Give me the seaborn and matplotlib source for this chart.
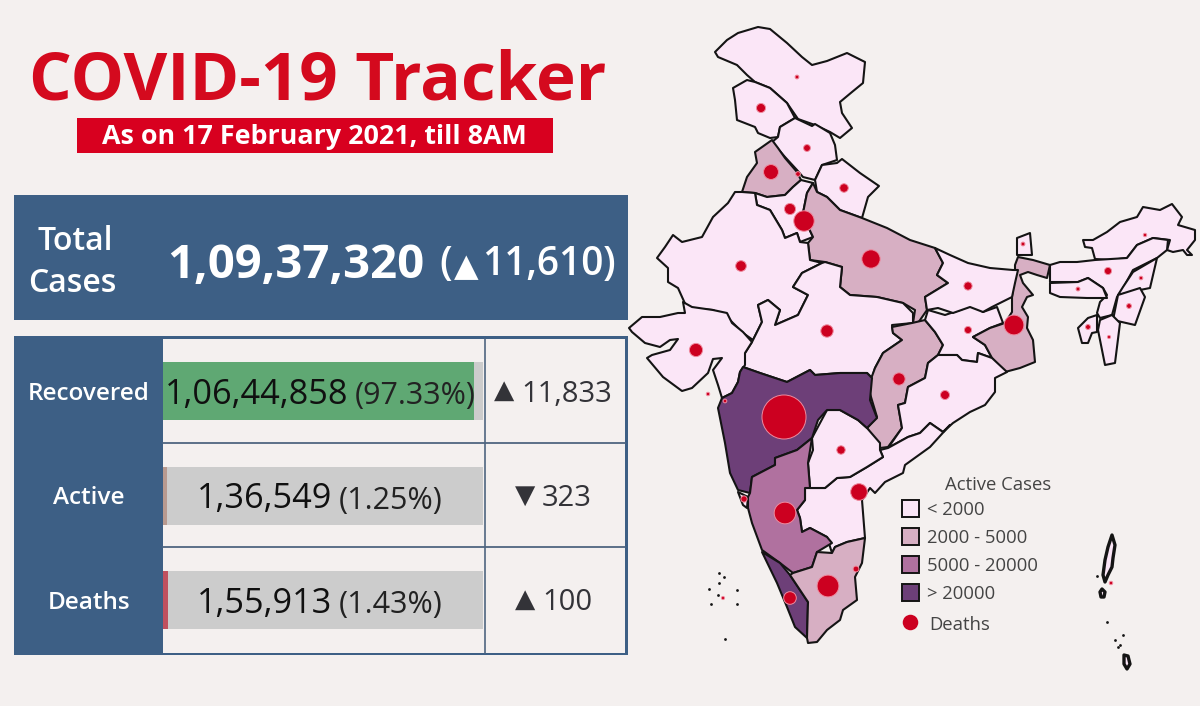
import matplotlib
matplotlib.use("Agg")
import matplotlib.pyplot as plt
from matplotlib.patches import Polygon, Rectangle
import pandas as pd
import seaborn as sns

# ---------- figures ----------
title = "COVID-19 Tracker"
subtitle = "As on 17 February 2021, till 8AM"
total_cases = "1,09,37,320"
total_delta = "11,610"
categories = ["Recovered", "Active", "Deaths"]
counts = ["1,06,44,858", "1,36,549", "1,55,913"]
shares = [97.33, 1.25, 1.43]
share_labels = ["(97.33%)", "(1.25%)", "(1.43%)"]
deltas = ["11,833", "323", "100"]
delta_marks = ["▲", "▼", "▲"]
legend_labels = ["< 2000", "2000 - 5000", "5000 - 20000", "> 20000"]

# ---------- map data (outline vertices in map units) ----------
states = {
 "Ladakh-JK": [(715,52),(722,45),(727,40),(738,33),(758,27),(770,29),(787,43),(802,57),(812,65),(827,61),(847,53),(865,62),(863,83),(852,92),(840,102),(842,113),(852,128),(840,138),(830,132),(815,125),(798,119),(787,103),(770,88),(755,82),(747,75),(737,65),(718,57)],
 "JK-South": [(733,88),(747,80),(755,82),(770,88),(787,103),(795,118),(780,127),(778,137),(770,138),(758,133),(755,127),(737,120),(735,100)],
 "Himachal": [(795,118),(812,126),(815,124),(830,133),(835,145),(837,160),(822,165),(815,180),(803,177),(797,170),(785,157),(772,142),(778,137),(780,127)],
 "Punjab": [(772,140),(778,148),(785,158),(797,172),(801,180),(793,187),(785,195),(767,197),(755,193),(742,192),(747,177),(757,163),(755,152)],
 "Haryana": [(755,193),(767,197),(785,195),(793,187),(801,180),(813,183),(807,193),(803,213),(805,220),(813,237),(800,242),(797,233),(785,238),(782,230),(770,210),(757,205)],
 "Uttarakhand": [(815,180),(822,165),(837,163),(842,159),(860,173),(879,186),(868,197),(862,218),(840,210),(827,197),(817,192)],
 "UP": [(813,183),(817,192),(827,197),(840,210),(862,218),(887,228),(910,240),(935,248),(943,263),(937,275),(948,283),(925,297),(927,310),(918,323),(913,323),(915,310),(903,303),(877,297),(850,295),(840,287),(842,267),(825,262),(810,260),(808,243),(813,237),(805,220),(803,213),(807,193)],
 "UP-Enclave": [(830,290),(840,290),(840,315),(832,317),(825,310)],
 "Rajasthan": [(742,192),(735,192),(728,203),(713,217),(702,237),(682,242),(673,235),(665,247),(657,258),(668,268),(668,282),(678,288),(687,308),(713,310),(728,318),(743,333),(753,340),(762,322),(758,305),(768,300),(780,310),(775,325),(798,315),(808,295),(793,287),(802,273),(822,263),(810,260),(808,243),(800,242),(797,233),(785,238),(782,230),(770,210),(757,205),(755,193)],
 "MP": [(822,263),(825,262),(842,267),(840,287),(850,295),(877,297),(903,303),(913,313),(913,323),(892,325),(893,333),(902,340),(883,353),(875,368),(872,378),(867,373),(840,373),(815,375),(810,370),(787,382),(760,373),(743,367),(745,353),(752,342),(753,340),(762,322),(758,305),(768,300),(780,310),(775,325),(798,315),(808,295),(793,287),(802,273)],
 "Gujarat": [(629,328),(642,317),(660,317),(678,313),(685,313),(683,302),(692,307),(713,310),(727,313),(732,323),(743,332),(752,342),(745,353),(745,365),(740,372),(738,382),(732,393),(722,398),(718,385),(713,370),(722,358),(713,359),(708,373),(692,388),(682,391),(663,377),(647,358),(652,355),(670,350),(678,339),(670,340),(660,347),(645,343),(632,332)],
 "Chhattisgarh": [(892,327),(912,323),(925,320),(935,332),(943,345),(938,355),(928,363),(925,378),(908,387),(905,403),(898,405),(902,428),(888,447),(880,448),(867,428),(877,417),(868,387),(875,368),(883,353),(902,340),(893,333)],
 "Jharkhand": [(925,320),(928,310),(945,315),(960,310),(973,305),(983,312),(997,307),(1003,323),(990,328),(973,337),(985,345),(992,358),(978,353),(977,362),(962,360),(957,355),(938,355),(943,345),(935,332)],
 "Bengal": [(1018,257),(1033,260),(1050,265),(1047,278),(1037,275),(1028,272),(1020,275),(1023,283),(1033,295),(1027,297),(1022,307),(1028,317),(1027,328),(1033,340),(1035,362),(1020,368),(1005,372),(992,358),(985,345),(973,337),(990,328),(1005,323),(1012,312),(1012,297),(1013,288),(1015,280),(1015,265)],
 "Bihar": [(935,248),(950,255),(968,263),(990,268),(1013,270),(1018,270),(1015,283),(1012,297),(992,307),(983,312),(970,307),(953,313),(938,308),(927,310),(925,297),(948,283),(937,275),(943,263)],
 "Sikkim": [(1017,238),(1030,233),(1032,255),(1017,255)],
 "Arunachal": [(1083,240),(1093,240),(1107,232),(1120,222),(1137,217),(1143,207),(1160,210),(1172,204),(1182,217),(1178,225),(1195,230),(1195,240),(1187,250),(1192,255),(1187,255),(1183,250),(1173,252),(1167,250),(1170,240),(1153,238),(1137,245),(1127,258),(1110,260),(1095,259),(1092,248),(1085,247)],
 "Assam": [(1050,265),(1060,262),(1077,262),(1095,260),(1127,258),(1137,245),(1153,238),(1168,240),(1167,250),(1157,258),(1133,270),(1122,290),(1117,297),(1112,315),(1100,318),(1097,313),(1100,302),(1107,295),(1103,288),(1088,278),(1078,282),(1050,282)],
 "Meghalaya": [(1050,283),(1078,282),(1088,278),(1103,288),(1107,298),(1087,298),(1060,297),(1050,293)],
 "Nagaland": [(1157,258),(1150,288),(1140,290),(1118,295),(1123,287),(1133,272)],
 "Manipur": [(1118,295),(1140,288),(1145,297),(1135,325),(1113,320)],
 "Mizoram": [(1100,320),(1112,315),(1120,323),(1115,363),(1105,365),(1098,330)],
 "Tripura": [(1097,315),(1097,332),(1092,333),(1088,343),(1082,343),(1078,328),(1088,318)],
 "Odisha": [(938,355),(957,355),(962,360),(977,362),(978,353),(992,358),(1007,372),(995,378),(995,392),(985,405),(970,412),(953,423),(943,432),(930,423),(920,433),(908,437),(888,448),(902,428),(898,405),(905,403),(908,387),(925,378),(928,363)],
 "Andhra": [(888,448),(908,437),(920,433),(930,423),(943,432),(950,425),(930,447),(905,465),(903,473),(885,482),(875,493),(870,488),(862,500),(865,538),(847,542),(835,547),(832,553),(827,537),(810,528),(802,532),(800,518),(797,510),(805,500),(805,488),(825,488),(837,478),(850,477),(867,467),(883,457),(880,450)],
 "Telangana": [(812,438),(827,410),(840,410),(858,420),(867,428),(880,443),(880,450),(883,457),(867,467),(850,477),(837,478),(825,488),(810,488),(808,463),(813,450)],
 "Maharashtra": [(743,367),(760,373),(787,382),(810,370),(815,375),(840,373),(867,373),(872,378),(870,400),(877,418),(867,428),(858,420),(840,410),(827,410),(818,420),(812,438),(797,450),(775,458),(775,465),(752,477),(750,493),(738,490),(730,473),(725,443),(718,408),(722,398),(732,393),(738,382),(740,372)],
 "Goa": [(738,492),(748,497),(747,508),(743,505)],
 "Karnataka": [(752,477),(775,465),(775,458),(797,450),(812,438),(808,463),(810,488),(805,488),(805,500),(797,510),(800,518),(802,532),(810,528),(827,537),(832,543),(817,552),(812,567),(793,573),(780,563),(762,550),(752,523),(748,508),(748,497),(750,493)],
 "Kerala": [(762,552),(780,563),(790,575),(800,590),(808,602),(807,638),(795,627),(787,607),(777,583)],
 "TamilNadu": [(812,567),(817,552),(832,553),(835,547),(847,542),(865,538),(862,563),(855,577),(857,600),(843,610),(840,620),(827,630),(817,642),(808,643),(807,638),(808,602),(790,575),(793,573)],
 "Andaman": [(1112,535),(1115,545),(1113,558),(1112,567),(1108,575),(1105,582),(1103,575),(1105,560),(1108,547)],
 "LittleAndaman": [(1102,589),(1105,592),(1104,597),(1101,597),(1100,592)],
 "GreatNicobar": [(1124,655),(1128,656),(1130,664),(1127,669),(1124,664)],
}
state_class = {"UP":1,"UP-Enclave":1,"Punjab":1,"Chhattisgarh":1,"Bengal":1,"TamilNadu":1,
               "Karnataka":2,"Maharashtra":3,"Kerala":3}
scribbled = ["Andaman", "LittleAndaman", "GreatNicobar"]

death_names = ["Ladakh","Jammu & Kashmir","Himachal","Punjab","Chandigarh","Uttarakhand","Haryana","Delhi",
    "Uttar Pradesh","Rajasthan","Madhya Pradesh","Gujarat","Assam","Sikkim","Bihar","Jharkhand","West Bengal",
    "Nagaland","Meghalaya","Manipur","Tripura","Mizoram","Arunachal","Maharashtra","Chhattisgarh","Odisha",
    "Telangana","Andhra Pradesh","Karnataka","Tamil Nadu","Kerala","Puducherry","Goa","Dadra","Daman","Lakshadweep","Andaman"]
death_counts = [130,1950,1000,5700,350,1690,3040,10890,8700,2780,3830,4400,1090,135,1540,1090,10200,91,148,370,390,
    11,56,51550,3800,1900,1630,7160,12270,12450,4000,650,780,100,60,10,62]
death_x = [797,761,807,771,798,844,790,804,871,741,827,696,1108,1023,968,968,1014,1141,1078,1129,1088,1109,1145,
    784,899,945,841,859,785,828,790,856,744,725,708,723,1111]
death_y = [77,108,148,172,174,188,209,221,259,266,331,350,271,244,286,330,325,278,289,306,327,337,235,
    417,379,395,450,492,513,586,598,569,499,401,394,598,583]
islet_x = [719,724,719,709,737,718,737,711,725,1097,1107,1115,1120,1123,1118]
islet_y = [573,577,583,589,590,595,604,604,639,576,622,640,645,635,647]

# ---------- style ----------
BG = "#f4f0ef"; BLUE = "#3d5f85"; RED = "#d40a1e"; DOT = "#cc0020"
CLASS_COLORS = ["#fbe6f7", "#d7afc3", "#b0719f", "#6d3f78"]
BAR_COLORS = ["#5fa873", "#b89a90", "#c0505f"]
sns.set_theme(style="white")
plt.rcParams["font.family"] = ["Open Sans", "DejaVu Sans"]

W, H = 1200, 706
fig = plt.figure(figsize=(W/100, H/100), dpi=100, facecolor=BG)
ax = fig.add_axes([0, 0, 1, 1], zorder=0); ax.set_xlim(0, W); ax.set_ylim(H, 0); ax.axis("off")
top = fig.add_axes([0, 0, 1, 1], zorder=2); top.set_xlim(0, W); top.set_ylim(H, 0); top.axis("off")

# header
ax.text(318, 82, title, color=RED, fontsize=48.5, fontweight="bold", ha="center", va="center")
ax.add_patch(Rectangle((77, 118), 476, 35, color="#d8001f", lw=0))
ax.text(314, 137, subtitle, color="white", fontsize=19.4, fontweight="bold", ha="center", va="center")

# total panel
ax.add_patch(Rectangle((14, 195), 614, 125, color=BLUE, lw=0))
ax.text(75, 241, "Total", color="white", fontsize=23, ha="center", va="center", fontweight="semibold")
ax.text(72, 284, "Cases", color="white", fontsize=23, ha="center", va="center", fontweight="semibold")
ax.text(167, 265, total_cases, color="white", fontsize=34, ha="left", va="center", fontweight="bold")
ax.text(439, 265, "(", color="white", fontsize=29, ha="left", va="center", fontweight="semibold")
ax.text(454, 268, "▲", color="white", fontsize=23, ha="left", va="center", family="DejaVu Sans")
ax.text(482, 265, total_delta, color="white", fontsize=28, ha="left", va="center", fontweight="semibold")
ax.text(603, 265, ")", color="white", fontsize=29, ha="left", va="center", fontweight="semibold")

# table panel
ax.add_patch(Rectangle((14, 336), 614, 319, color=BLUE, lw=0))
ax.add_patch(Rectangle((163, 339), 462, 314, color=BG, lw=0))
for yy in (443, 547):
    ax.plot([163, 625], [yy, yy], color="#4f6580", lw=1.3)
ax.plot([485, 485], [339, 653], color="#4f6580", lw=1.2)

row_y = [391, 495.5, 600]
bar_ax = fig.add_axes([163/W, 1-652.5/H, 320/W, 313.5/H], zorder=1); bar_ax.patch.set_alpha(0)
frame = pd.DataFrame({"category": categories, "share": shares, "whole": [100.0]*3})
sns.barplot(data=frame, x="whole", y="category", color="#cccccc", width=0.555, saturation=1, linewidth=0, ax=bar_ax)
sns.barplot(data=frame, x="share", y="category", hue="category", palette=BAR_COLORS, width=0.555,
            saturation=1, legend=False, linewidth=0, ax=bar_ax)
bar_ax.set_xlim(0, 100); bar_ax.axis("off")

count_left = [165, 197, 197]; share_left = [355, 339, 339]
mark_left = [494, 515, 515]; delta_left = [521, 542, 542]
for i, y in enumerate(row_y):
    ax.text(89, y+3, categories[i], color="white", fontsize=17.5, fontweight="semibold", ha="center", va="center")
    top.text(count_left[i], y+4, counts[i], color="#101010", fontsize=24.7, ha="left", va="center")
    top.text(share_left[i], y+5, share_labels[i], color="#222222", fontsize=22, ha="left", va="center")
    top.text(mark_left[i], y, delta_marks[i], color="#333338", fontsize=19, ha="left", va="center", family="DejaVu Sans")
    top.text(delta_left[i], y+3, deltas[i], color="#333338", fontsize=21, ha="left", va="center")

# map
for name, pts in states.items():
    ax.add_patch(Polygon(pts, closed=True, facecolor=CLASS_COLORS[state_class.get(name, 0)],
                         edgecolor="#141414", lw=2.4 if name in scribbled else 1.5, joinstyle="round", zorder=2))
sns.scatterplot(x=islet_x, y=islet_y, color="#141414", s=4, linewidth=0, ax=ax, zorder=3)
deaths = pd.DataFrame({"state": death_names, "deaths": death_counts, "x": death_x, "y": death_y})
sns.scatterplot(data=deaths, x="x", y="y", size="deaths", size_norm=(0, 51550), sizes=(5, 1005),
                color=DOT, edgecolor="#ee8a9e", linewidth=0.7, legend=False, ax=ax, zorder=4)
ax.set_xlim(0, W); ax.set_ylim(H, 0); ax.axis("off")

# legend
ax.text(998, 485, "Active Cases", color="#444444", fontsize=13.3, ha="center", va="center")
for i, lab in enumerate(legend_labels):
    y0 = 500 + 28*i
    ax.add_patch(Rectangle((902, y0), 17, 17, facecolor=CLASS_COLORS[i], edgecolor="#141414", lw=1.4, zorder=3))
    ax.text(927, y0+10, lab, color="#444444", fontsize=13.3, ha="left", va="center")
ax.scatter([910], [622], s=125, color=DOT, linewidth=0, zorder=4)
ax.text(929, 624.5, "Deaths", color="#444444", fontsize=13.3, ha="left", va="center")

fig.savefig("out.png", dpi=100, facecolor=BG)
